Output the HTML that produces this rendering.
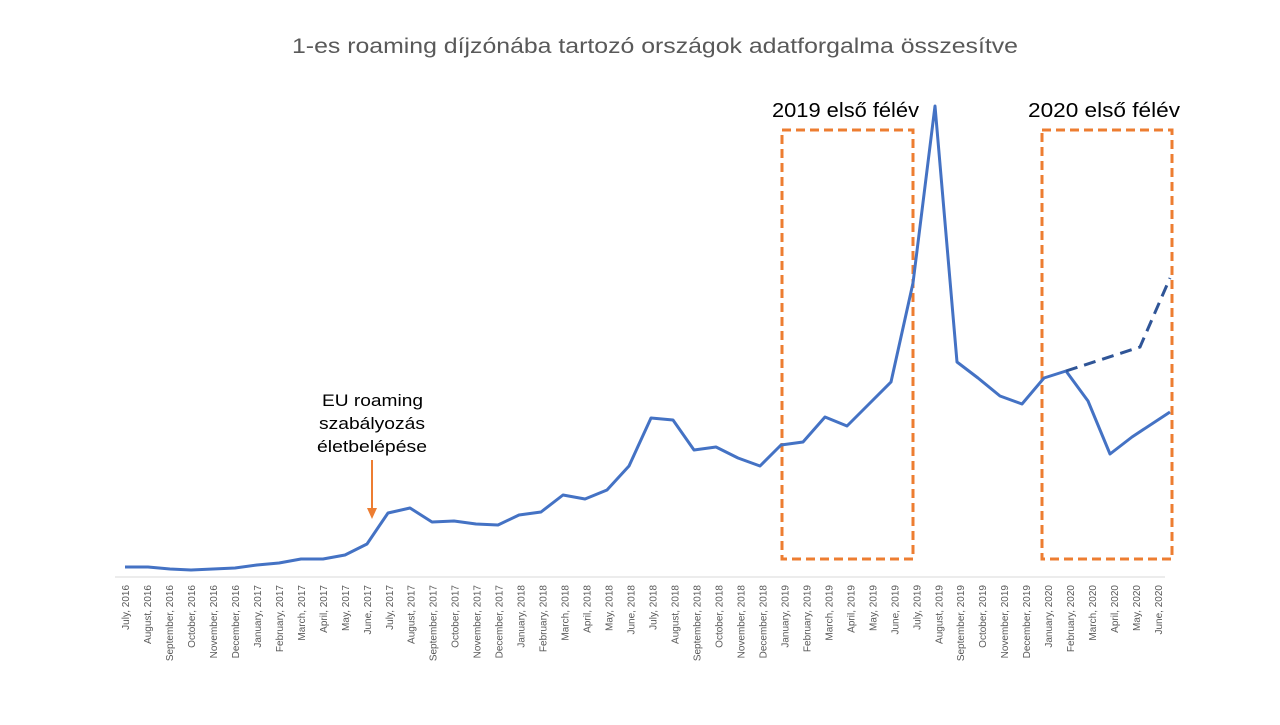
<!DOCTYPE html>
<html><head><meta charset="utf-8"><style>
body{margin:0;background:#fff;}
svg text{font-family:"Liberation Sans",sans-serif;}
</style></head><body>
<svg width="1280" height="720" viewBox="0 0 1280 720" xmlns="http://www.w3.org/2000/svg">
<text x="292" y="53" font-size="21" fill="#595959" textLength="726" lengthAdjust="spacingAndGlyphs">1-es roaming díjzónába tartozó országok adatforgalma összesítve</text>
<line x1="115" y1="577" x2="1165" y2="577" stroke="#d9d9d9" stroke-width="1"/>
<rect x="782" y="130" width="131" height="429" fill="none" stroke="#ED7D31" stroke-width="3" stroke-dasharray="9,5"/>
<rect x="1042" y="130" width="130" height="429" fill="none" stroke="#ED7D31" stroke-width="3" stroke-dasharray="9,5"/>
<text x="772" y="117" font-size="20" fill="#000" textLength="147" lengthAdjust="spacingAndGlyphs">2019 első félév</text>
<text x="1028" y="117" font-size="20" fill="#000" textLength="152" lengthAdjust="spacingAndGlyphs">2020 első félév</text>
<g font-size="17" fill="#000">
<text x="322" y="406" textLength="101" lengthAdjust="spacingAndGlyphs">EU roaming</text>
<text x="319" y="429" textLength="106" lengthAdjust="spacingAndGlyphs">szabályozás</text>
<text x="317" y="452" textLength="110" lengthAdjust="spacingAndGlyphs">életbelépése</text>
</g>
<line x1="372" y1="460" x2="372" y2="510" stroke="#ED7D31" stroke-width="2"/>
<polygon points="367,508 377,508 372,519" fill="#ED7D31"/>
<polyline fill="none" stroke="#4472C4" stroke-width="3" stroke-linejoin="round" points="125,567 148,567 170,569 191,570 213,569 235,568 257,565 279,563 301,559 323,559 345,555 367,544 388,513 410,508 432,522 454,521 476,524 498,525 519,515 541,512 563,495 585,499 607,490 629,466 651,418 673,420 694,450 716,447 738,458 760,466 781,445 803,442 825,417 847,426 869,404 891,382 913,283 935,106 957,362 978,378 1000,396 1022,404 1044,378 1066,371 1088,401 1110,454 1132,437 1170,412"/>
<polyline fill="none" stroke="#2F5597" stroke-width="3" stroke-dasharray="12,7" points="1066,371 1140,347 1170,278"/>
<g id="lbl" font-size="10" fill="#595959" text-anchor="end"></g>
</svg>
<script>
var m=["January","February","March","April","May","June","July","August","September","October","November","December"];
var g=document.getElementById("lbl"),s="";
for(var i=0;i<48;i++){var mi=(6+i)%12,y=2016+Math.floor((6+i)/12);var x=129+i*21.98;
s+='<text transform="translate('+x.toFixed(1)+',585) rotate(-90)">'+m[mi]+', '+y+'</text>';}
g.innerHTML=s;
</script>
</body></html>
